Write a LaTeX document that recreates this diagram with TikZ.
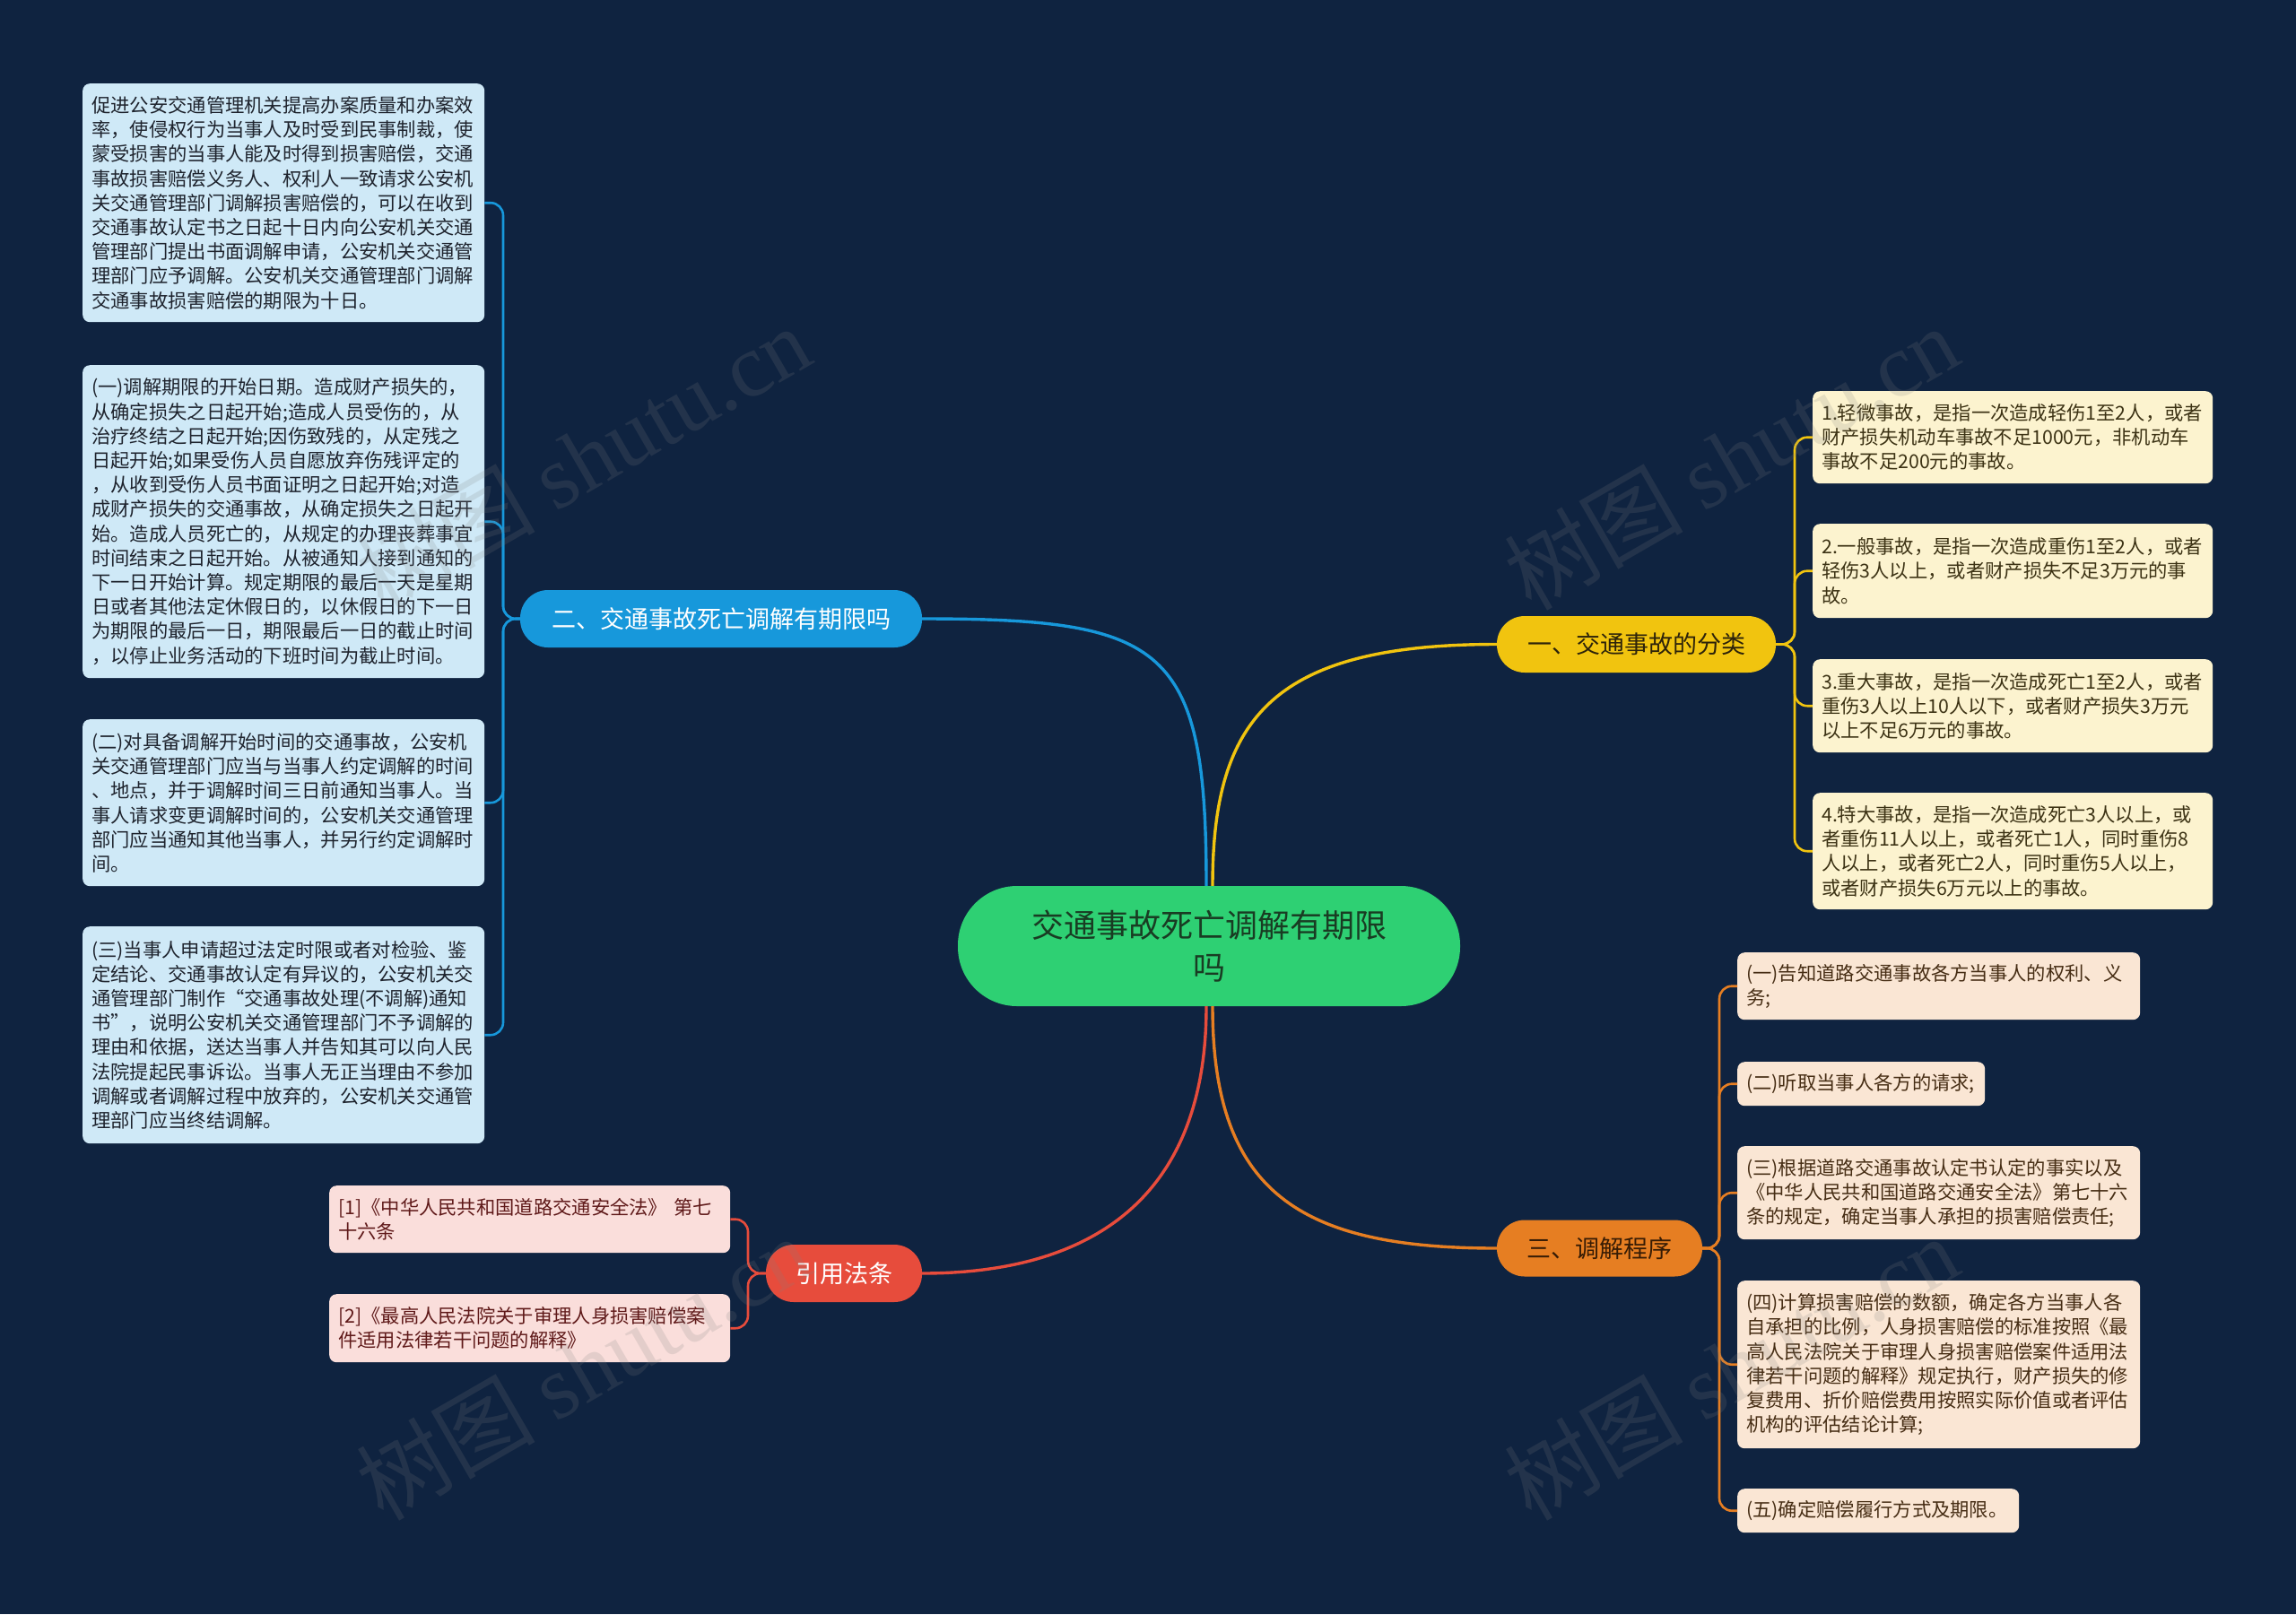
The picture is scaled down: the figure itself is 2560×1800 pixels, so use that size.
\documentclass[tikz,border=0pt]{standalone}
\usepackage{fontspec}
\setmainfont{Noto Sans CJK SC}
\newfontfamily\wmserif{Liberation Serif}
\definecolor{bg}{RGB}{15,35,64}
\definecolor{cblue}{RGB}{23,152,219}
\definecolor{cyellow}{RGB}{241,196,15}
\definecolor{corange}{RGB}{230,126,34}
\definecolor{cred}{RGB}{231,76,60}
\definecolor{cgreen}{RGB}{46,208,115}
\definecolor{bleaf}{RGB}{207,233,247}
\definecolor{yleaf}{RGB}{252,243,207}
\definecolor{oleaf}{RGB}{250,230,212}
\definecolor{rleaf}{RGB}{250,222,219}
\definecolor{btext}{RGB}{30,35,45}
\definecolor{ytext}{RGB}{60,50,20}
\definecolor{otext}{RGB}{70,45,20}
\definecolor{rtext}{RGB}{95,25,25}
\definecolor{ytopic}{RGB}{45,35,10}
\definecolor{otopic}{RGB}{55,28,5}
\definecolor{gtext}{RGB}{25,60,35}
\tikzset{
  x=1pt, y=-1pt,
  leafbox/.style={anchor=north west, rounded corners=8pt, inner xsep=10pt, inner ysep=0pt,
    align=left, font=\fontsize{21.3}{27.2}\selectfont},
  bluebox/.style={leafbox, fill=bleaf, text=btext, text width=428pt},
  yelbox/.style={leafbox, fill=yleaf, text=ytext, text width=426pt},
  orabox/.style={leafbox, fill=oleaf, text=otext, text width=429pt},
  redbox/.style={leafbox, fill=rleaf, text=rtext, text width=427pt},
  topic/.style={inner sep=0pt, align=center, rounded corners=31pt, font=\fontsize{27}{32}\selectfont},
  bline/.style={draw=cblue, line width=2.6pt},
  yline/.style={draw=cyellow, line width=2.6pt},
  oline/.style={draw=corange, line width=2.6pt},
  rline/.style={draw=cred, line width=2.6pt},
  mainline/.style={line width=3.4pt},
  watermark/.style={rotate=30, text=gray, opacity=0.18, font=\fontsize{100}{110}\selectfont},
}
\begin{document}
\begin{tikzpicture}
\fill[bg] (0,0) rectangle (2560,1800);
\useasboundingbox (0,0) rectangle (2560,1800);

% central and main topics
\node[topic, fill=cgreen, text=gtext, minimum width=560pt, minimum height=134pt, rounded corners=66pt,
  font=\fontsize{36}{47}\selectfont] (c) at (1348,1055) {交通事故死亡调解有期限\\吗};
\node[topic, fill=cblue, text=white, minimum width=448pt, minimum height=64pt] (n2) at (804,690) {二、交通事故死亡调解有期限吗};
\node[topic, fill=cyellow, text=ytopic, minimum width=311pt, minimum height=63pt] (n1) at (1824.5,718.5) {一、交通事故的分类};
\node[topic, fill=corange, text=otopic, minimum width=229pt, minimum height=63pt] (n3) at (1783.5,1392) {三、调解程序};
\node[topic, fill=cred, text=white, minimum width=174pt, minimum height=64pt] (n4) at (941,1420) {引用法条};

% blue leaves
\node[bluebox, minimum height=266pt] (b1) at (92,93) {促进公安交通管理机关提高办案质量和办案效\\率，使侵权行为当事人及时受到民事制裁，使\\蒙受损害的当事人能及时得到损害赔偿，交通\\事故损害赔偿义务人、权利人一致请求公安机\\关交通管理部门调解损害赔偿的，可以在收到\\交通事故认定书之日起十日内向公安机关交通\\管理部门提出书面调解申请，公安机关交通管\\理部门应予调解。公安机关交通管理部门调解\\交通事故损害赔偿的期限为十日。};
\node[bluebox, minimum height=349pt] (b2) at (92,407) {(一)调解期限的开始日期。造成财产损失的，\\从确定损失之日起开始;造成人员受伤的，从\\治疗终结之日起开始;因伤致残的，从定残之\\日起开始;如果受伤人员自愿放弃伤残评定的\\，从收到受伤人员书面证明之日起开始;对造\\成财产损失的交通事故，从确定损失之日起开\\始。造成人员死亡的，从规定的办理丧葬事宜\\时间结束之日起开始。从被通知人接到通知的\\下一日开始计算。规定期限的最后一天是星期\\日或者其他法定休假日的，以休假日的下一日\\为期限的最后一日，期限最后一日的截止时间\\，以停止业务活动的下班时间为截止时间。};
\node[bluebox, minimum height=186pt] (b3) at (92,802) {(二)对具备调解开始时间的交通事故，公安机\\关交通管理部门应当与当事人约定调解的时间\\、地点，并于调解时间三日前通知当事人。当\\事人请求变更调解时间的，公安机关交通管理\\部门应当通知其他当事人，并另行约定调解时\\间。};
\node[bluebox, minimum height=242pt] (b4) at (92,1033) {(三)当事人申请超过法定时限或者对检验、鉴\\定结论、交通事故认定有异议的，公安机关交\\通管理部门制作“交通事故处理(不调解)通知\\书”，说明公安机关交通管理部门不予调解的\\理由和依据，送达当事人并告知其可以向人民\\法院提起民事诉讼。当事人无正当理由不参加\\调解或者调解过程中放弃的，公安机关交通管\\理部门应当终结调解。};

% yellow leaves
\node[yelbox, minimum height=103pt] (y1) at (2021,436) {1.轻微事故，是指一次造成轻伤1至2人，或者\\财产损失机动车事故不足1000元，非机动车\\事故不足200元的事故。};
\node[yelbox, minimum height=105pt] (y2) at (2021,584) {2.一般事故，是指一次造成重伤1至2人，或者\\轻伤3人以上，或者财产损失不足3万元的事\\故。};
\node[yelbox, minimum height=104pt] (y3) at (2021,735) {3.重大事故，是指一次造成死亡1至2人，或者\\重伤3人以上10人以下，或者财产损失3万元\\以上不足6万元的事故。};
\node[yelbox, minimum height=130pt] (y4) at (2021,884) {4.特大事故，是指一次造成死亡3人以上，或\\者重伤11人以上，或者死亡1人，同时重伤8\\人以上，或者死亡2人，同时重伤5人以上，\\或者财产损失6万元以上的事故。};

% orange leaves
\node[orabox, minimum height=75pt] (o1) at (1937,1062) {(一)告知道路交通事故各方当事人的权利、义\\务;};
\node[orabox, minimum height=49pt, text width=256pt] (o2) at (1937,1184) {(二)听取当事人各方的请求;};
\node[orabox, minimum height=104pt] (o3) at (1937,1278) {(三)根据道路交通事故认定书认定的事实以及\\《中华人民共和国道路交通安全法》第七十六\\条的规定，确定当事人承担的损害赔偿责任;};
\node[orabox, minimum height=187pt] (o4) at (1937,1428) {(四)计算损害赔偿的数额，确定各方当事人各\\自承担的比例，人身损害赔偿的标准按照《最\\高人民法院关于审理人身损害赔偿案件适用法\\律若干问题的解释》规定执行，财产损失的修\\复费用、折价赔偿费用按照实际价值或者评估\\机构的评估结论计算;};
\node[orabox, minimum height=49pt, text width=294pt] (o5) at (1937,1660) {(五)确定赔偿履行方式及期限。};

% red leaves
\node[redbox, minimum height=75pt] (r1) at (367,1322) {[1]《中华人民共和国道路交通安全法》 第七\\十六条};
\node[redbox, minimum height=76pt] (r2) at (367,1443) {[2]《最高人民法院关于审理人身损害赔偿案\\件适用法律若干问题的解释》};

% main connectors
\draw[bline, mainline] ([xshift=-3pt]c.north) .. controls +(0,-268) and +(272,0) .. (n2.east);
\draw[yline, mainline] ([xshift=4pt]c.north) .. controls +(0,-188) and +(-249,0) .. (n1.west);
\draw[rline, mainline] ([xshift=-3pt]c.south) .. controls +(0,228) and +(172,0) .. (n4.east);
\draw[oline, mainline] ([xshift=4pt]c.south) .. controls +(0,208) and +(-219,0) .. (n3.west);

% spines
\coordinate (bs) at (561,690);
\coordinate (ys) at (2001,718.5);
\coordinate (os) at (1917,1392);
\coordinate (rs) at (834,1420);

\foreach \l in {b1,b2,b3,b4} \draw[bline, rounded corners=14pt] (n2.west) -- (bs) |- (\l.east);
\foreach \l in {y1,y2,y3,y4} \draw[yline, rounded corners=14pt] (n1.east) -- (ys) |- (\l.west);
\foreach \l in {o1,o2,o3,o4,o5} \draw[oline, rounded corners=14pt] (n3.east) -- (os) |- (\l.west);
\foreach \l in {r1,r2} \draw[rline, rounded corners=14pt] (n4.west) -- (rs) |- (\l.east);

% watermarks
\node[watermark] (wm1) at (650,510) {树图 {\wmserif shutu.cn}};
\node[watermark] (wm2) at (1930,510) {树图 {\wmserif shutu.cn}};
\node[watermark] (wm3) at (650,1525) {树图 {\wmserif shutu.cn}};
\node[watermark] (wm4) at (1930,1525) {树图 {\wmserif shutu.cn}};
\end{tikzpicture}
\end{document}
